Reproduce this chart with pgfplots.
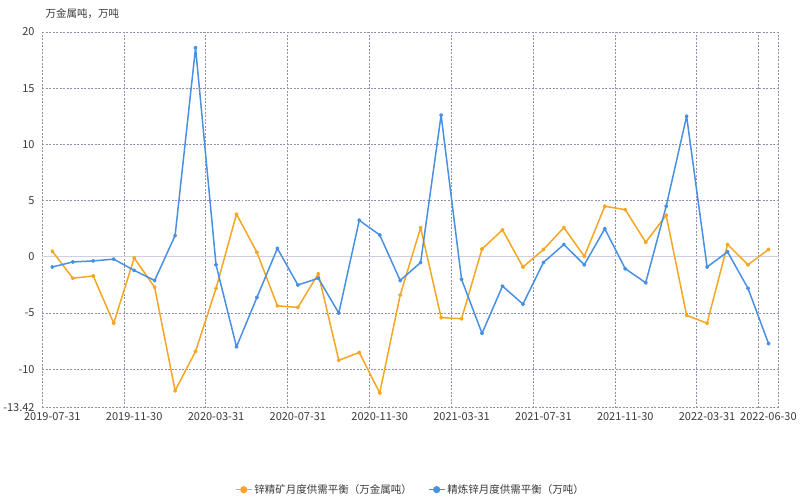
\documentclass[border=0pt]{standalone}
\usepackage{pgfplots}
\pgfplotsset{compat=1.18}
\usepackage{fontspec}
\setmainfont{Noto Sans CJK SC}
\definecolor{org}{HTML}{F5A623}
\definecolor{blu}{HTML}{4A90E2}
\definecolor{gridc}{HTML}{8F92AA}
\definecolor{zeroc}{HTML}{CFCFE0}
\definecolor{txt}{HTML}{3A3A3A}
\begin{document}
\begin{tikzpicture}
\begin{axis}[
  at={(0,0)}, anchor=south west,
  scale only axis, width=737bp, height=376bp,
  xmin=-0.5, xmax=35.5, ymin=-13.42, ymax=20,
  axis line style={draw=none},
  major tick length=0pt,
  /pgf/number format/assume math mode=true,
  ticklabel style={font=\fontsize{11bp}{13bp}\selectfont, text=txt},
  xtick={0,4,8,12,16,20,24,28,32,35},
  xticklabels={2019-07-31,2019-11-30,2020-03-31,2020-07-31,2020-11-30,2021-03-31,2021-07-31,2021-11-30,2022-03-31,2022-06-30},
  xticklabel style={yshift=-1bp},
  ytick={-13.42,-10,-5,5,10,15,20},
  yticklabels={-13.42,-10,-5,5,10,15,20},
  yticklabel style={xshift=-4bp},
  ymajorgrids,
  grid style={gridc, line width=0.9bp, dash pattern=on 2bp off 1.5bp},
  extra y ticks={0}, extra y tick labels={0},
  extra y tick style={grid style={zeroc, solid, line width=1.1bp}},
  extra x ticks={-0.5,3.5,7.5,11.5,15.5,19.5,23.5,27.5,31.5,34.5,35.5},
  extra x tick labels={},
  extra x tick style={xmajorgrids, grid style={gridc, line width=0.9bp, dash pattern=on 2bp off 1.5bp}},
  legend style={at={(0.5,-0.218)}, anchor=center, draw=none, fill=none,
    legend columns=2, font=\fontsize{10.5bp}{12bp}\selectfont, text=txt,
    /tikz/every even column/.append style={column sep=14bp}},
  legend cell align=left,
  legend image code/.code={\draw[#1, mark repeat=2, mark phase=2, mark size=2.8bp] plot coordinates {(0bp,0bp)(8bp,0bp)(16bp,0bp)};},
  clip=false,
]
\addplot[org, line width=1.5bp, line join=round, mark=*, mark size=1.3bp] coordinates {
(0,0.5)(1,-1.9)(2,-1.7)(3,-5.9)(4,-0.1)(5,-2.7)(6,-11.9)(7,-8.4)(8,-2.8)(9,3.8)
(10,0.4)(11,-4.35)(12,-4.5)(13,-1.5)(14,-9.2)(15,-8.5)(16,-12.1)(17,-3.4)(18,2.6)(19,-5.4)
(20,-5.5)(21,0.7)(22,2.4)(23,-0.9)(24,0.65)(25,2.6)(26,0.05)(27,4.5)(28,4.2)(29,1.3)
(30,3.7)(31,-5.2)(32,-5.9)(33,1.1)(34,-0.7)(35,0.65)};
\addlegendentry{锌精矿月度供需平衡（万金属吨）}
\addplot[blu, line width=1.5bp, line join=round, mark=*, mark size=1.3bp] coordinates {
(0,-0.9)(1,-0.45)(2,-0.36)(3,-0.2)(4,-1.2)(5,-2.1)(6,1.9)(7,18.6)(8,-0.7)(9,-8.0)
(10,-3.6)(11,0.75)(12,-2.5)(13,-1.9)(14,-5.0)(15,3.25)(16,1.95)(17,-2.1)(18,-0.5)(19,12.6)
(20,-2.0)(21,-6.8)(22,-2.6)(23,-4.2)(24,-0.5)(25,1.1)(26,-0.7)(27,2.5)(28,-1.05)(29,-2.3)
(30,4.5)(31,12.5)(32,-0.9)(33,0.45)(34,-2.8)(35,-7.7)};
\addlegendentry{精炼锌月度供需平衡（万吨）}
\node[anchor=west, font=\fontsize{10.5bp}{12bp}\selectfont, text=txt] at ([yshift=18bp]rel axis cs:0,1) {万金属吨，万吨};
\end{axis}
\path[use as bounding box] (-42bp,-92bp) rectangle (758bp,408bp);
\end{tikzpicture}
\end{document}
